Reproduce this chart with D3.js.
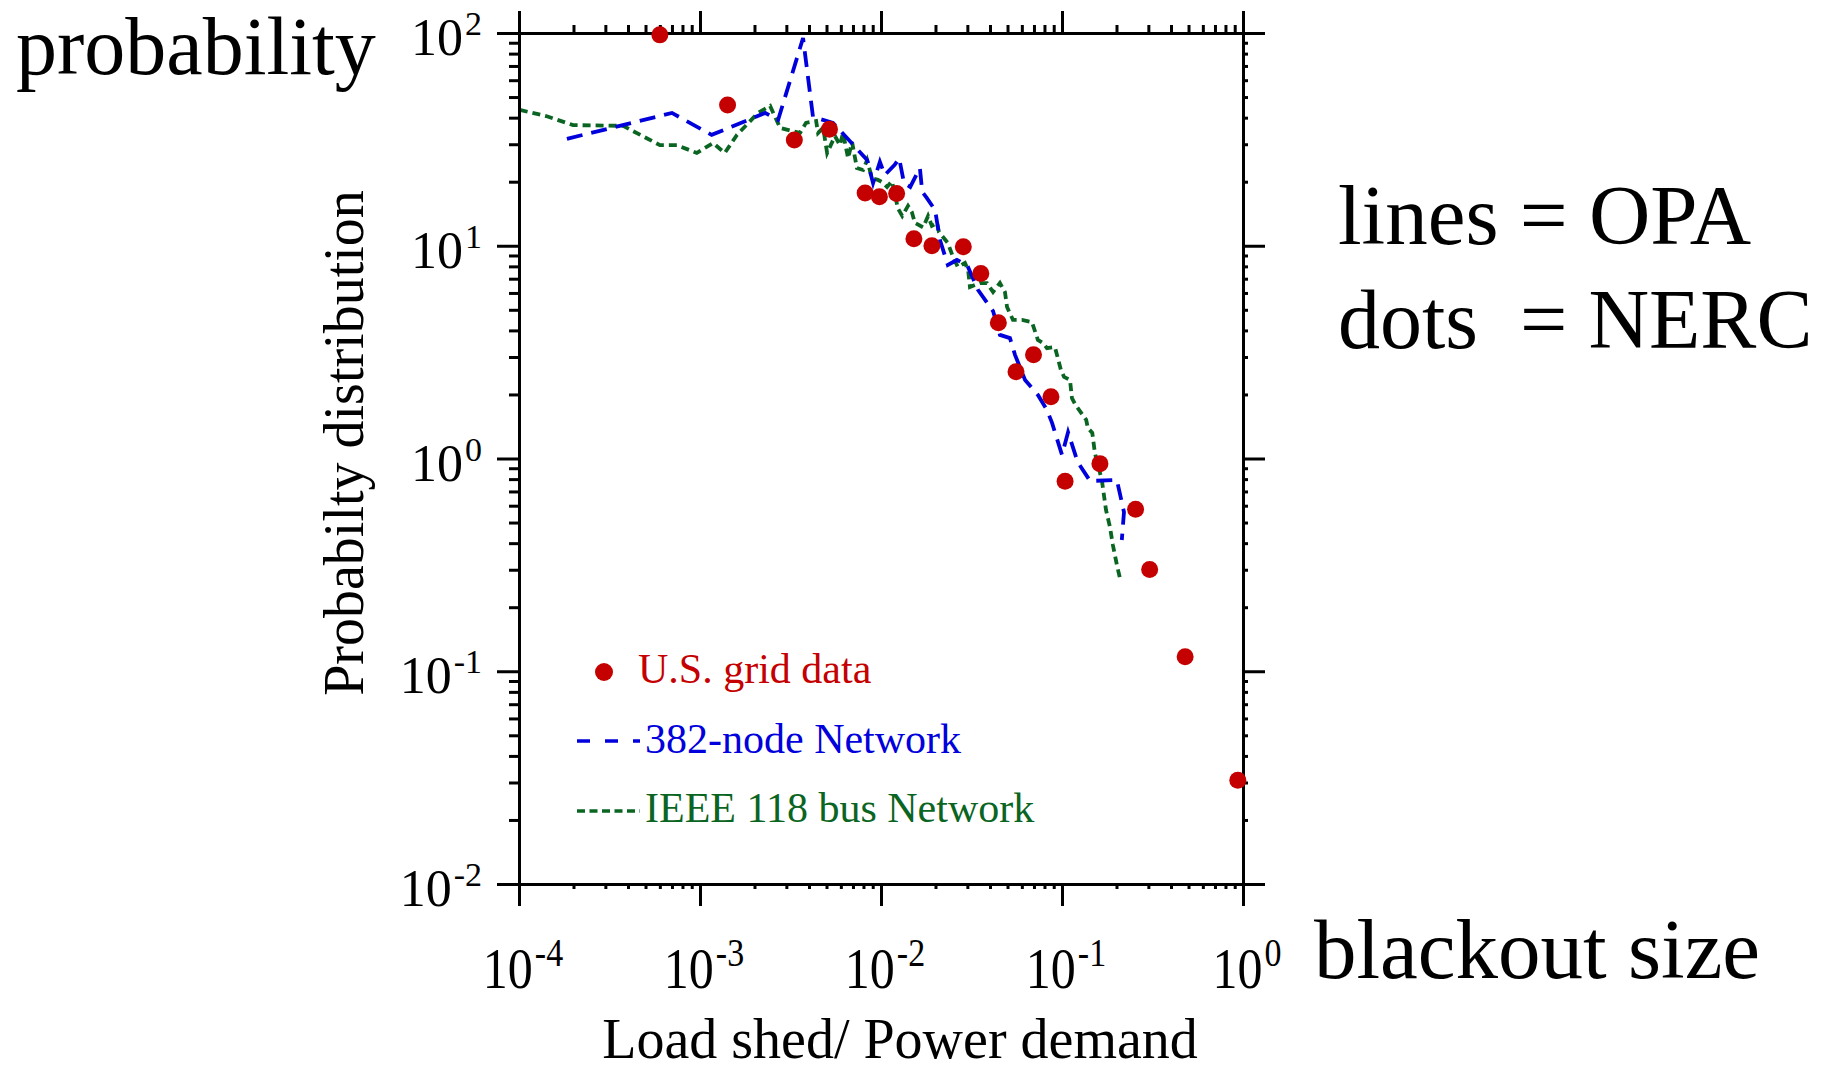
<!DOCTYPE html>
<html>
<head>
<meta charset="utf-8">
<script src="https://cdn.jsdelivr.net/npm/d3@7"></script>
<style>
  body { margin: 0; background: #fff; }
  text { font-family: "Liberation Serif", "Times New Roman", serif; }
</style>
</head>
<body>
<div id="chart"></div>
<script>
// values
var gridX = [6.0e-4, 1.42e-3, 3.32e-3, 5.19e-3, 8.17e-3, 9.8e-3, 1.22e-2, 1.52e-2, 1.91e-2, 2.85e-2,
  3.56e-2, 4.45e-2, 5.57e-2, 6.96e-2, 8.69e-2, 0.104, 0.162, 0.255, 0.305, 0.479, 0.936];
var gridY = [98, 45.9, 31.4, 35.3, 17.7, 17.0, 17.6, 10.8, 10.0, 9.9,
  7.41, 4.35, 2.56, 3.07, 1.95, 0.782, 0.946, 0.577, 0.301, 0.117, 0.0307];

var net382X = [1.84e-4, 7.0e-4, 1.16e-3, 2.29e-3, 2.70e-3, 3.71e-3, 4.21e-3, 5.43e-3, 6.49e-3, 8.38e-3,
  9.04e-3, 9.86e-3, 1.05e-2, 1.19e-2, 1.26e-2, 1.34e-2, 1.45e-2, 1.64e-2, 1.69e-2, 1.79e-2,
  1.99e-2, 2.12e-2, 2.34e-2, 2.63e-2, 2.99e-2, 3.44e-2, 4.16e-2, 4.54e-2, 5.16e-2, 5.50e-2,
  6.25e-2, 7.36e-2, 8.26e-2, 8.81e-2, 0.100, 0.108, 0.122, 0.143, 0.201, 0.220, 0.214];
var net382Y = [31.8, 42.1, 33.2, 42.1, 39.0, 94.7, 40.3, 37.8, 32.1, 25.3,
  19.7, 24.8, 21.5, 24.0, 25.8, 19.7, 18.9, 23.2, 17.9, 16.8,
  14.7, 10.6, 8.12, 8.57, 8.12, 6.19, 4.93, 3.81, 3.68, 3.07,
  2.34, 1.99, 1.69, 1.47, 1.04, 1.33, 0.963, 0.784, 0.792, 0.560, 0.414];

var ieeeX = [1.01e-4, 1.41e-4, 1.99e-4, 3.76e-4, 6.01e-4, 7.46e-4, 9.6e-4, 1.18e-3, 1.37e-3, 1.60e-3,
  2.09e-3, 2.44e-3, 2.77e-3, 3.22e-3, 3.57e-3, 3.85e-3, 4.38e-3, 4.49e-3, 4.79e-3, 5.04e-3,
  5.57e-3, 5.93e-3, 6.17e-3, 6.58e-3, 6.92e-3, 7.36e-3, 7.96e-3, 8.38e-3, 8.91e-3, 9.61e-3,
  1.01e-2, 1.08e-2, 1.15e-2, 1.24e-2, 1.31e-2, 1.41e-2, 1.48e-2, 1.54e-2, 1.71e-2, 1.82e-2,
  1.91e-2, 2.04e-2, 2.09e-2, 2.34e-2, 2.50e-2, 2.66e-2, 2.91e-2, 3.03e-2, 3.10e-2, 3.52e-2,
  3.85e-2, 4.16e-2, 4.54e-2, 4.84e-2, 4.97e-2, 5.36e-2, 6.01e-2, 6.82e-2, 7.36e-2, 7.85e-2,
  8.26e-2, 9.14e-2, 9.38e-2, 9.86e-2, 0.1026, 0.1107, 0.1135, 0.119, 0.122, 0.136,
  0.139, 0.147, 0.152, 0.166, 0.175, 0.184, 0.191, 0.201, 0.209];
var ieeeY = [43.5, 40.7, 36.9, 36.6, 29.7, 29.7, 27.3, 30.4, 27.3, 33.2,
  42.1, 45.4, 35.8, 34.6, 33.9, 37.8, 38.6, 33.9, 35.8, 27.3,
  32.8, 29.7, 33.9, 25.8, 30.7, 23.2, 22.7, 25.3, 20.8, 20.4,
  19.95, 18.9, 20.1, 15.0, 13.8, 15.4, 14.4, 12.8, 12.2, 13.8,
  12.4, 12.8, 11.6, 10.3, 8.85, 7.94, 8.30, 7.69, 6.40, 6.68,
  6.68, 6.06, 6.68, 6.06, 5.15, 4.48, 4.48, 4.38, 3.61, 3.49,
  3.30, 3.34, 3.07, 2.61, 2.42, 2.34, 1.92, 1.78, 1.73, 1.52,
  1.39, 1.32, 1.06, 0.792, 0.573, 0.477, 0.392, 0.316, 0.274];

var xTicks = [1e-4, 1e-3, 1e-2, 1e-1, 1];
var xTickExp = ["-4", "-3", "-2", "-1", "0"];
var yTicks = [1e-2, 1e-1, 1, 10, 100];
var yTickExp = ["-2", "-1", "0", "1", "2"];
var legendLabels = ["U.S. grid data", "382-node Network", "IEEE 118 bus Network"];

var svgWidth = 1836;
var svgHeight = 1069;
var red = "#c40000", blue = "#0000dc", green = "#0b6522";

var svg = d3.select("#chart")
  .append("svg")
  .attr("width", svgWidth)
  .attr("height", svgHeight);

var xScale = d3.scaleLog().domain([1e-4, 1]).range([519, 1243]);
var yScale = d3.scaleLog().domain([1e-2, 1e2]).range([884, 33]);

// minor tick positions 2..9 within each decade
function minors(lo, hi) {
  var out = [];
  for (var k = lo; k < hi; k++) {
    for (var d = 2; d <= 9; d++) out.push(d * Math.pow(10, k));
  }
  return out;
}
var xMinor = minors(-4, 0);
var yMinor = minors(-2, 2);

svg.append("clipPath").attr("id", "plotClip")
  .append("rect")
  .attr("x", 519).attr("y", 30)
  .attr("width", 724).attr("height", 856);

// lines
var line = d3.line()
  .x(d => xScale(d[0]))
  .y(d => yScale(d[1]));

svg.append("path")
  .datum(d3.zip(ieeeX, ieeeY))
  .attr("d", line)
  .attr("clip-path", "url(#plotClip)")
  .attr("fill", "none")
  .attr("stroke", green)
  .attr("stroke-width", 3.8)
  .attr("stroke-dasharray", "8,5");

svg.append("path")
  .datum(d3.zip(net382X, net382Y))
  .attr("d", line)
  .attr("clip-path", "url(#plotClip)")
  .attr("fill", "none")
  .attr("stroke", blue)
  .attr("stroke-width", 3.8)
  .attr("stroke-dasharray", "16,9");

// axes: majors and minors on all four sides
function drawAxis(axisFn, scale, majors, minorVals, minorSize, transform) {
  var gMaj = svg.append("g").attr("transform", transform)
    .call(axisFn(scale).tickValues(majors).tickSize(22).tickSizeOuter(0).tickFormat(""));
  var gMin = svg.append("g").attr("transform", transform)
    .call(axisFn(scale).tickValues(minorVals).tickSize(minorSize).tickSizeOuter(0).tickFormat(""));
  [gMaj, gMin].forEach(function(g) {
    g.selectAll("path.domain").attr("stroke", "#000").attr("stroke-width", 3);
    g.selectAll(".tick line").attr("stroke", "#000").attr("stroke-width", 3);
  });
}
drawAxis(d3.axisBottom, xScale, xTicks, xMinor, 5, "translate(0,884)");
drawAxis(d3.axisTop, xScale, xTicks, xMinor, 8, "translate(0,33)");
drawAxis(d3.axisLeft, yScale, yTicks, yMinor, 10, "translate(519,0)");
drawAxis(d3.axisRight, yScale, yTicks, yMinor, 5, "translate(1243,0)");

// tick labels
var xLab = svg.selectAll(".xlab")
  .data(xTicks)
  .enter()
  .append("text")
  .attr("class", "xlab")
  .attr("text-anchor", "middle")
  .attr("transform", d => `translate(${xScale(d) + 4}, 988) scale(1, 1.15)`)
  .attr("font-size", 50);
xLab.append("tspan").text("10");
xLab.append("tspan").attr("dx", 2).attr("dy", -19).attr("font-size", 34)
  .text((d, i) => xTickExp[i]);

var yLab = svg.selectAll(".ylab")
  .data(yTicks)
  .enter()
  .append("text")
  .attr("class", "ylab")
  .attr("text-anchor", "end")
  .attr("x", 482)
  .attr("y", d => yScale(d) + 22)
  .attr("font-size", 52);
yLab.append("tspan").text("10");
yLab.append("tspan").attr("dx", 2).attr("dy", -20).attr("font-size", 34)
  .text((d, i) => yTickExp[i]);

// axis titles
svg.append("text")
  .attr("x", 900).attr("y", 1058)
  .attr("text-anchor", "middle")
  .attr("font-size", 56)
  .text("Load shed/ Power demand");

svg.append("text")
  .attr("transform", "translate(363, 443) rotate(-90)")
  .attr("text-anchor", "middle")
  .attr("font-size", 56)
  .text("Probabilty distribution");

// big annotations
svg.append("text").attr("x", 16).attr("y", 74).attr("font-size", 82).text("probability");
svg.append("text").attr("x", 1314).attr("y", 978).attr("font-size", 85).text("blackout size");
svg.append("text").attr("x", 1338).attr("y", 244).attr("font-size", 85).text("lines = OPA");
svg.append("text").attr("x", 1338).attr("y", 348).attr("font-size", 84)
  .attr("xml:space", "preserve").style("white-space", "pre").text("dots  = NERC");

// data dots
svg.selectAll(".dot")
  .data(d3.zip(gridX, gridY))
  .enter()
  .append("circle")
  .attr("class", "dot")
  .attr("cx", d => xScale(d[0]))
  .attr("cy", d => yScale(d[1]))
  .attr("r", 8.5)
  .attr("fill", red);

// legend
svg.append("circle").attr("cx", 604).attr("cy", 672).attr("r", 9).attr("fill", red);
svg.append("text").attr("x", 638).attr("y", 683).attr("font-size", 42).attr("fill", red)
  .text(legendLabels[0]);

svg.append("line").attr("x1", 577).attr("x2", 640).attr("y1", 741).attr("y2", 741)
  .attr("stroke", blue).attr("stroke-width", 3.5).attr("stroke-dasharray", "13,15");
svg.append("text").attr("x", 645).attr("y", 753).attr("font-size", 42).attr("fill", blue)
  .text(legendLabels[1]);

svg.append("line").attr("x1", 577).attr("x2", 640).attr("y1", 811).attr("y2", 811)
  .attr("stroke", green).attr("stroke-width", 3.5).attr("stroke-dasharray", "8,4.5");
svg.append("text").attr("x", 645).attr("y", 822).attr("font-size", 42).attr("fill", green)
  .text(legendLabels[2]);
</script>
</body>
</html>
